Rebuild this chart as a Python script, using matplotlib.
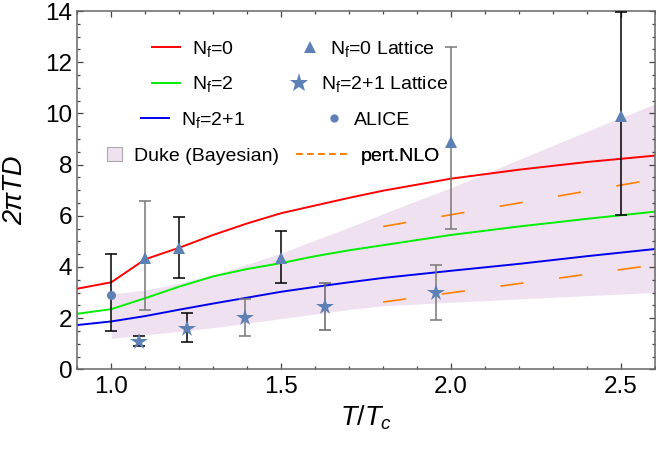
import numpy as np
import matplotlib
matplotlib.use('Agg')
import matplotlib.pyplot as plt
from matplotlib.lines import Line2D
from matplotlib.patches import Patch
from matplotlib.ticker import MultipleLocator

plt.rcParams['font.family'] = ['Liberation Sans', 'DejaVu Sans']
plt.rcParams['mathtext.fontset'] = 'custom'
plt.rcParams['mathtext.rm'] = 'Liberation Sans'
plt.rcParams['mathtext.it'] = 'Liberation Sans:italic'

# model curves
t_curve = [0.9, 1.0, 1.1, 1.2, 1.3, 1.4, 1.5, 1.6, 1.7, 1.8, 2.0, 2.2, 2.4, 2.6]
d_nf0 = [3.15, 3.4, 4.3, 4.75, 5.25, 5.7, 6.1, 6.4, 6.7, 6.98, 7.45, 7.8, 8.1, 8.35]
d_nf2 = [2.17, 2.35, 2.78, 3.23, 3.63, 3.92, 4.15, 4.42, 4.65, 4.85, 5.25, 5.58, 5.88, 6.16]
d_nf21 = [1.73, 1.87, 2.08, 2.33, 2.57, 2.8, 3.03, 3.22, 3.4, 3.57, 3.85, 4.12, 4.42, 4.7]

# Duke Bayesian band
t_duke = [1.0, 1.1, 1.2, 1.3, 1.4, 1.5, 1.6, 1.7, 1.8, 2.0, 2.2, 2.4, 2.6]
duke_lo = [1.21, 1.35, 1.48, 1.63, 1.8, 1.98, 2.16, 2.34, 2.48, 2.62, 2.75, 2.88, 3.0]
duke_hi = [2.94, 3.1, 3.36, 3.7, 4.1, 4.54, 5.05, 5.55, 6.08, 7.1, 8.2, 9.3, 10.37]

# pert. NLO
t_nlo = [1.8, 2.2, 2.6]
nlo_hi = [5.58, 6.5, 7.43]
nlo_lo = [2.63, 3.35, 4.08]

# lattice Nf=0
t_lat0 = [1.1, 1.2, 1.5, 2.0, 2.5]
d_lat0 = [4.34, 4.73, 4.34, 8.9, 9.88]
lat0_lo = [2.32, 3.58, 3.39, 5.47, 6.03]
lat0_hi = [6.56, 5.95, 5.42, 12.59, 13.95]

# lattice Nf=2+1
t_lat21 = [1.082, 1.222, 1.394, 1.629, 1.957]
d_lat21 = [1.05, 1.56, 2.0, 2.42, 2.97]
lat21_lo = [0.9, 1.08, 1.32, 1.54, 1.93]
lat21_hi = [1.3, 2.19, 2.75, 3.36, 4.08]

# ALICE
t_alice = [1.0]
d_alice = [2.9]
alice_lo = [1.5]
alice_hi = [4.5]

mark_col = '#5e81b5'

fig = plt.figure(figsize=(6.56, 4.49), dpi=100)
ax = fig.add_axes([0.1178, 0.1775, 0.8807, 0.798])

ax.fill_between(t_duke, duke_lo, duke_hi, color='#efe1f0', lw=0, zorder=1)
ax.plot(t_curve, d_nf0, color='#ff0000', lw=1.4, zorder=2)
ax.plot(t_curve, d_nf2, color='#00ee00', lw=1.4, zorder=2)
ax.plot(t_curve, d_nf21, color='#0000ee', lw=1.4, zorder=2)
ax.plot(t_nlo, nlo_hi, color='#ff8000', lw=1.2, dashes=(14, 21.5), zorder=2)
ax.plot(t_nlo, nlo_lo, color='#ff8000', lw=1.2, dashes=(14, 21.5), zorder=2)

# error bars (some drawn gray as in the original)
ecol0 = ['#777777', 'k', 'k', '#777777', 'k']
ecol21 = ['k', 'k', '#777777', '#666666', '#777777']
def bars(xs, ys, lo, hi, cols, marker, ms):
    for x, y, l, h, c in zip(xs, ys, lo, hi, cols):
        ax.errorbar([x], [y], yerr=[[y - l], [h - y]], fmt='none', ecolor=c,
                    elinewidth=1.1, capsize=4.3, capthick=1.1, zorder=3)
    ax.plot(xs, ys, marker, color=mark_col, ms=ms, mew=0, zorder=4)

bars(t_lat0, d_lat0, lat0_lo, lat0_hi, ecol0, '^', 8)
bars(t_lat21, d_lat21, lat21_lo, lat21_hi, ecol21, '*', 13)
bars(t_alice, d_alice, alice_lo, alice_hi, ['k'], 'o', 6.5)

ax.set_xlim(0.9, 2.6)
ax.set_ylim(0, 14)
ax.xaxis.set_major_locator(MultipleLocator(0.5))
ax.xaxis.set_minor_locator(MultipleLocator(0.1))
ax.yaxis.set_major_locator(MultipleLocator(2))
ax.yaxis.set_minor_locator(MultipleLocator(0.5))
ax.set_xticks([1.0, 1.5, 2.0, 2.5])
ax.set_xticklabels(['1.0', '1.5', '2.0', '2.5'])
ax.tick_params(which='both', direction='in', top=True, right=True,
               color='#444444', labelsize=17.5, width=0.9)
ax.tick_params(which='major', length=4.5)
ax.tick_params(which='minor', length=2.5)
ax.tick_params(axis='x', pad=5)
ax.tick_params(axis='y', pad=3.5)
for s in ax.spines.values():
    s.set_color('#666666')
    s.set_linewidth(1.1)

ax.set_xlabel(r'$T/T_c$', fontsize=19.5, labelpad=4)
ax.set_ylabel('2πTD', fontsize=19.5, style='italic', labelpad=12)

# legend items, each centred in its column like the original
handles = [
    Line2D([], [], color='#ff0000', lw=1.4),
    Line2D([], [], color='#00ee00', lw=1.4),
    Line2D([], [], color='#0000ee', lw=1.4),
    Patch(facecolor='#efe1f0', edgecolor='#aaaaaa', lw=0.8),
    Line2D([], [], ls='none', marker='^', color=mark_col, ms=9, mew=0),
    Line2D([], [], ls='none', marker='*', color=mark_col, ms=14, mew=0),
    Line2D([], [], ls='none', marker='o', color=mark_col, ms=6, mew=0),
    Line2D([], [], color='#ff8000', lw=1.2, dashes=(4, 2.6)),
]
labels = [r'N$_\mathrm{f}$=0', r'N$_\mathrm{f}$=2', r'N$_\mathrm{f}$=2+1', 'Duke (Bayesian)',
          r'N$_\mathrm{f}$=0 Lattice', r'N$_\mathrm{f}$=2+1 Lattice', 'ALICE', 'pert.NLO']
hlen = [1.45, 1.45, 1.45, 0.75, 0.9, 1.1, 0.8, 2.7]
cx = [193, 193, 193, 193, 368, 368, 368, 368]
cy = [49, 84.5, 120, 156, 49, 84.5, 120, 156]
for h, lab, hl, x, y in zip(handles, labels, hlen, cx, cy):
    leg = ax.legend([h], [lab], loc='center', bbox_to_anchor=(x / 656, 1 - y / 449),
                    bbox_transform=fig.transFigure, frameon=False, fontsize=14,
                    handlelength=hl, handleheight=0.75, handletextpad=0.6,
                    borderpad=0, borderaxespad=0)
    ax.add_artist(leg)

fig.savefig('out.png', dpi=100)
